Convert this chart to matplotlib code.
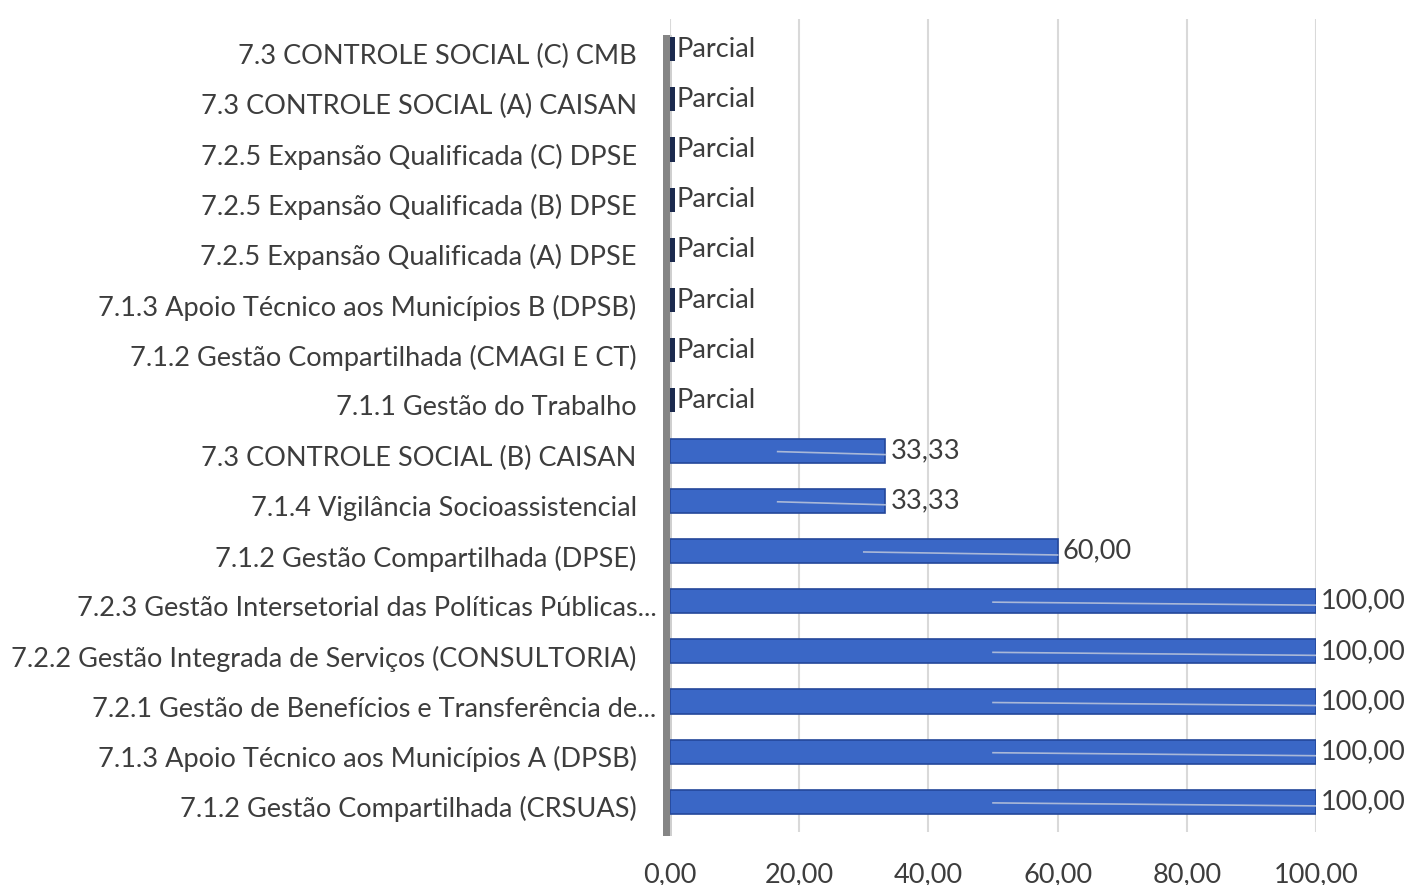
import numpy as np
import matplotlib.pyplot as plt
from matplotlib.patches import Rectangle
import matplotlib.transforms as mtransforms

# categories from bottom to top, as in the chart
categories = [
    "7.1.2 Gestão Compartilhada (CRSUAS)",
    "7.1.3 Apoio Técnico aos Municípios A (DPSB)",
    "7.2.1 Gestão de Benefícios e Transferência de...",
    "7.2.2 Gestão Integrada de Serviços (CONSULTORIA)",
    "7.2.3 Gestão Intersetorial das Políticas Públicas...",
    "7.1.2 Gestão Compartilhada (DPSE)",
    "7.1.4 Vigilância Socioassistencial",
    "7.3 CONTROLE SOCIAL (B) CAISAN",
    "7.1.1 Gestão do Trabalho",
    "7.1.2 Gestão Compartilhada (CMAGI E CT)",
    "7.1.3 Apoio Técnico aos Municípios B (DPSB)",
    "7.2.5 Expansão Qualificada (A) DPSE",
    "7.2.5 Expansão Qualificada (B) DPSE",
    "7.2.5 Expansão Qualificada (C) DPSE",
    "7.3 CONTROLE SOCIAL (A) CAISAN",
    "7.3 CONTROLE SOCIAL (C) CMB",
]
# None = "Parcial" (no numeric value)
values = [100, 100, 100, 100, 100, 60, 33.33, 33.33,
          None, None, None, None, None, None, None, None]
xticks = [0, 20, 40, 60, 80, 100]

FONT = ["Lato", "DejaVu Sans"]
FS = 19.5
TXT = "#3d3d3d"
BLUE = "#3a67c6"
EDGE = "#24479a"
NAVY = "#1b2a4e"

fig = plt.figure(figsize=(14.1, 8.85), dpi=100)
ax = fig.add_axes([670 / 1410, 1 - 832 / 885, (1316 - 670) / 1410, 813 / 885])

y = np.arange(len(categories))
for yi, v in zip(y, values):
    if v is None:
        ax.barh(yi, 0.8, height=0.48, color=NAVY, zorder=3)
        ax.text(1.0, yi + 0.0, "Parcial", va="center", ha="left",
                fontsize=FS, color=TXT, family=FONT, zorder=4)
    else:
        ax.barh(yi, v, height=0.48, color=BLUE, edgecolor=EDGE,
                linewidth=1.2, zorder=3)
        # faint highlight across the bar
        ax.plot([v * 0.5, v], [yi - 0.02, yi - 0.08], color="#a9b8d8",
                lw=1.2, zorder=4)
        label = f"{v:.2f}".replace(".", ",")
        ax.annotate(label, (v, yi + 0.0), xytext=(5, 0),
                    textcoords="offset pixels", va="center", ha="left",
                    fontsize=FS, color=TXT, family=FONT, zorder=4)

ax.set_xlim(0, 100)
ax.set_ylim(-0.6, len(categories) - 0.4)
ax.set_yticks(y)
ax.set_yticklabels(categories, fontsize=FS, color=TXT, family=FONT)
ax.set_xticks(xticks)
ax.set_xticklabels([f"{t:.2f}".replace(".", ",") for t in xticks],
                   fontsize=FS, color=TXT, family=FONT)
ax.tick_params(axis="y", length=0, pad=24)
ax.tick_params(axis="x", length=0, pad=22)

# labels sit slightly below bar centres; truncated ones a little further right
for lab in ax.get_yticklabels():
    dx = 0.2 if lab.get_text().endswith("...") else 0.0
    lab.set_transform(lab.get_transform() +
                      mtransforms.ScaledTranslation(dx, -0.05, fig.dpi_scale_trans))

ax.grid(axis="x", color="#d9d9d9", lw=1.5, zorder=0)
for s in ax.spines.values():
    s.set_visible(False)

# grey back wall on the left
trans = ax.transAxes
ax.add_patch(Rectangle((-0.011, -0.005), 0.013, 0.985, transform=trans,
                       facecolor="#858585", edgecolor="none", clip_on=False,
                       zorder=2))
ax.add_patch(Rectangle((0.0, -0.005), 0.003, 0.985, transform=trans,
                       facecolor="#cfcfcf", edgecolor="none", clip_on=False,
                       zorder=2))

fig.savefig("out.png", dpi=100)
